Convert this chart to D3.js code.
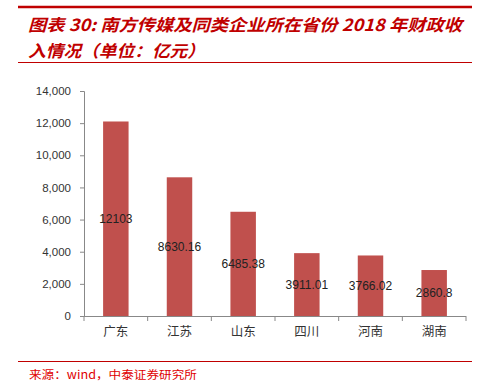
<!DOCTYPE html>
<html><head><meta charset="utf-8">
<script src="https://cdn.jsdelivr.net/npm/d3@7"></script>
<style>body{margin:0;background:#fff}svg{display:block}</style>
</head><body>
<svg id="c" width="486" height="387"></svg>
<script>
const categories = ["广东","江苏","山东","四川","河南","湖南"];
const values = [12103, 8630.16, 6485.38, 3911.01, 3766.02, 2860.8];
const valueLabels = ["12103","8630.16","6485.38","3911.01","3766.02","2860.8"];
const yTicks = [0,2000,4000,6000,8000,10000,12000,14000];
const titleLines = ["图表 30: 南方传媒及同类企业所在省份 2018 年财政收","入情况（单位：亿元）"];
const sourceText = "来源：wind，中泰证券研究所";

const svg = d3.select("#c");
const red = "#C00000";
// header
svg.append("line").attr("x1",18).attr("x2",472).attr("y1",7).attr("y2",7).attr("stroke",red).attr("stroke-width",2.5);
svg.append("text").attr("x",28).attr("y",31).text(titleLines[0])
  .attr("fill",red).attr("font-family","Noto Sans CJK SC").attr("font-weight","bold").attr("font-style","italic")
  .attr("font-size",16.5).attr("textLength",434).attr("lengthAdjust","spacingAndGlyphs");
svg.append("text").attr("x",28).attr("y",57).text(titleLines[1])
  .attr("fill",red).attr("font-family","Noto Sans CJK SC").attr("font-weight","bold").attr("font-style","italic")
  .attr("font-size",16.5).attr("textLength",177).attr("lengthAdjust","spacingAndGlyphs");
svg.append("line").attr("x1",18).attr("x2",472).attr("y1",62.5).attr("y2",62.5).attr("stroke",red).attr("stroke-width",1);

// chart
const x = d3.scaleBand().domain(categories).range([84,466]).paddingInner(0.6).paddingOuter(0.3);
const xb = d3.scaleBand().domain(categories).range([84,466]);
const y = d3.scaleLinear().domain([0,14000]).range([316,91]);

const gy = svg.append("g").attr("transform","translate(84,0)")
  .call(d3.axisLeft(y).tickValues(yTicks).tickFormat(d3.format(",")).tickSizeOuter(0).tickSize(4));
gy.select(".domain").attr("stroke","#888");
gy.selectAll(".tick line").attr("stroke","#888");
gy.selectAll("text").attr("font-family","Liberation Sans, Arial").attr("font-size",11.5).attr("fill","#333").attr("dx",-6);

svg.selectAll("rect.bar").data(values).join("rect").attr("class","bar")
  .attr("x",(d,i)=>x(categories[i])).attr("width",x.bandwidth())
  .attr("y",d=>y(d)).attr("height",d=>y(0)-y(d)).attr("fill","#C0504D");

svg.selectAll("text.vl").data(values).join("text").attr("class","vl")
  .attr("x",(d,i)=>x(categories[i])+x.bandwidth()/2).attr("y",d=>(y(d)+y(0))/2+4)
  .attr("text-anchor","middle").attr("font-family","Liberation Sans, Arial").attr("font-size",12).attr("fill","#222")
  .text((d,i)=>valueLabels[i]);

// x axis
svg.append("line").attr("x1",84).attr("x2",466).attr("y1",316.5).attr("y2",316.5).attr("stroke","#888");
const bounds = categories.map(c=>xb(c)).concat([466]);
svg.selectAll("line.xt").data(bounds).join("line").attr("class","xt")
  .attr("x1",d=>d).attr("x2",d=>d).attr("y1",316).attr("y2",321).attr("stroke","#888");
svg.selectAll("text.xl").data(categories).join("text").attr("class","xl")
  .attr("x",d=>xb(d)+xb.bandwidth()/2).attr("y",336).attr("text-anchor","middle")
  .attr("font-family","Noto Sans CJK SC").attr("font-size",12.5).attr("fill","#333").text(d=>d);

// footer
svg.append("line").attr("x1",18).attr("x2",472).attr("y1",361.5).attr("y2",361.5).attr("stroke",red).attr("stroke-width",1);
svg.append("text").attr("x",29).attr("y",379).text(sourceText)
  .attr("fill","#E00000").attr("font-family","Noto Sans CJK SC").attr("font-size",11.5)
  .attr("textLength",168).attr("lengthAdjust","spacingAndGlyphs");
</script>
</body></html>
